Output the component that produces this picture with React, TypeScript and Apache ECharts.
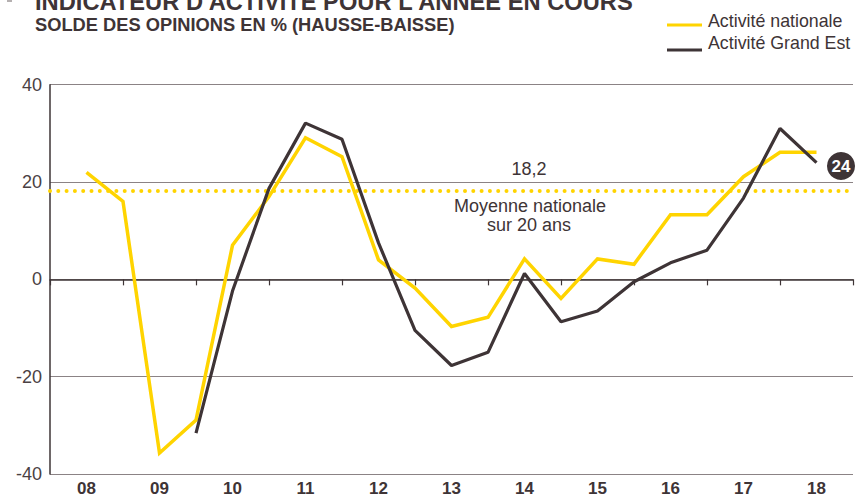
import React, { useEffect, useRef } from "react";
import * as echarts from "echarts";

const years = ["08", "09", "10", "11", "12", "13", "14", "15", "16", "17", "18"];
// Half-year readings, from the middle of 2008 to the middle of 2018
const national = [22, 16, -35.7, -28.9, 7, 17, 29.1, 25.2, 4, -1.8, -9.7, -7.8, 4.2, -3.9, 4.2, 3.1, 13.3, 13.3, 21.1, 26.1, 26.1];
const grandEst = [-31.6, -2.4, 18.7, 32.1, 28.8, 7.5, -10.5, -17.7, -15, 1.2, -8.7, -6.5, -0.5, 3.4, 6.0, 16.7, 31.0, 24];
const nationalMean = 18.2;
const yTicks = { min: -40, max: 40, step: 20 };

const title = "INDICATEUR D'ACTIVITÉ POUR L'ANNÉE EN COURS";
const subtitle = "SOLDE DES OPINIONS EN % (HAUSSE-BAISSE)";
const legendNames = ["Activité nationale", "Activité Grand Est"];
const meanLabel = "18,2";
const meanCaption = ["Moyenne nationale", "sur 20 ans"];

const YELLOW = "#FFD400";
const DARK = "#3e3436";
const FONT = "'Liberation Sans', Arial, sans-serif";

export default function App() {
  const ref = useRef<HTMLDivElement>(null);
  useEffect(() => {
    if (!ref.current) return;
    const chart = echarts.init(ref.current, undefined, { renderer: "svg" });

    // slots: boundary, year centre, boundary, ...
    const slots: string[] = ["|" + years[0]];
    years.forEach((y, i) => {
      slots.push(y);
      slots.push(y + "|" + (years[i + 1] || ""));
    });
    const natData = [null, ...national, null];
    const geStart = slots.length - 1 - grandEst.length;
    const geData = [...Array(geStart).fill(null), ...grandEst, null];
    const last = grandEst[grandEst.length - 1];

    chart.setOption({
      animation: false,
      textStyle: { fontFamily: FONT },
      grid: { left: 50, right: 3, top: 84.7, bottom: 21, containLabel: false },
      xAxis: {
        type: "category",
        data: slots,
        boundaryGap: false,
        axisLine: { lineStyle: { color: DARK, width: 1.5 } },
        axisTick: {
          show: true,
          interval: (i: number) => i % 2 === 0,
          length: 6,
          lineStyle: { color: DARK, width: 1.2 },
        },
        axisLabel: {
          interval: (i: number) => i % 2 === 1,
          fontSize: 17,
          fontWeight: "bold",
          fontFamily: "'Liberation Sans Narrow', 'Liberation Sans', Arial, sans-serif",
          color: DARK,
          margin: 6,
        },
        splitLine: { show: false },
      },
      yAxis: {
        type: "value",
        min: yTicks.min,
        max: yTicks.max,
        interval: yTicks.step,
        axisLine: { show: true, lineStyle: { color: DARK, width: 1.5 } },
        axisTick: { show: false },
        axisLabel: { fontSize: 18, color: "#4a4143", margin: 8, fontFamily: FONT },
        splitLine: { lineStyle: { color: "#8b8385", width: 1 } },
      },
      series: [
        {
          name: legendNames[0],
          type: "line",
          data: natData,
          symbol: "none",
          z: 3,
          lineStyle: { color: YELLOW, width: 3.5, join: "miter" },
          itemStyle: { color: YELLOW },
          markLine: {
            silent: true,
            symbol: ["none", "none"],
            label: { show: false },
            lineStyle: { color: YELLOW, width: 4, type: [0, 8.3], cap: "round" },
            data: [{ yAxis: nationalMean }],
            z: 2,
          },
        },
        {
          name: legendNames[1],
          type: "line",
          data: geData,
          symbol: "none",
          z: 4,
          lineStyle: { color: DARK, width: 3.2 },
          itemStyle: { color: DARK },
        },
      ],
      graphic: [
        { type: "rect", shape: { x: 7, y: 0, width: 5, height: 2 }, style: { fill: "#b5b0b1" } },
        {
          type: "text", x: 35, y: 2,
          style: { text: title, font: `bold 23.7px ${FONT}`, fill: DARK, verticalAlign: "middle" },
        },
        {
          type: "text", x: 35, y: 24,
          style: { text: subtitle, font: `bold 18.3px ${FONT}`, fill: DARK, verticalAlign: "middle" },
        },
        { type: "line", shape: { x1: 667, y1: 25, x2: 702, y2: 25 }, style: { stroke: YELLOW, lineWidth: 3 } },
        {
          type: "text", x: 708, y: 21,
          style: { text: legendNames[0], font: `17.8px ${FONT}`, fill: DARK, verticalAlign: "middle" },
        },
        { type: "line", shape: { x1: 667, y1: 50, x2: 702, y2: 50 }, style: { stroke: DARK, lineWidth: 3 } },
        {
          type: "text", x: 708, y: 43,
          style: { text: legendNames[1], font: `17.8px ${FONT}`, fill: DARK, verticalAlign: "middle" },
        },
        {
          type: "text", x: 529, y: 169,
          style: { text: meanLabel, font: `18px ${FONT}`, fill: DARK, align: "center", verticalAlign: "middle" },
        },
        {
          type: "text", x: 530, y: 206,
          style: { text: meanCaption[0], font: `18px ${FONT}`, fill: DARK, align: "center", verticalAlign: "middle" },
        },
        {
          type: "text", x: 529, y: 225,
          style: { text: meanCaption[1], font: `18px ${FONT}`, fill: DARK, align: "center", verticalAlign: "middle" },
        },
        { type: "circle", shape: { cx: 841, cy: 166, r: 14 }, style: { fill: DARK } },
        {
          type: "text", x: 841, y: 166,
          style: { text: String(Math.round(last)), font: `bold 17px ${FONT}`, fill: "#ffffff", align: "center", verticalAlign: "middle" },
        },
      ],
    });
    return () => chart.dispose();
  }, []);
  return (
    <div
      ref={ref}
      style={{ position: "fixed", left: 0, top: 0, width: 856, height: 497, background: "#fff" }}
    />
  );
}
